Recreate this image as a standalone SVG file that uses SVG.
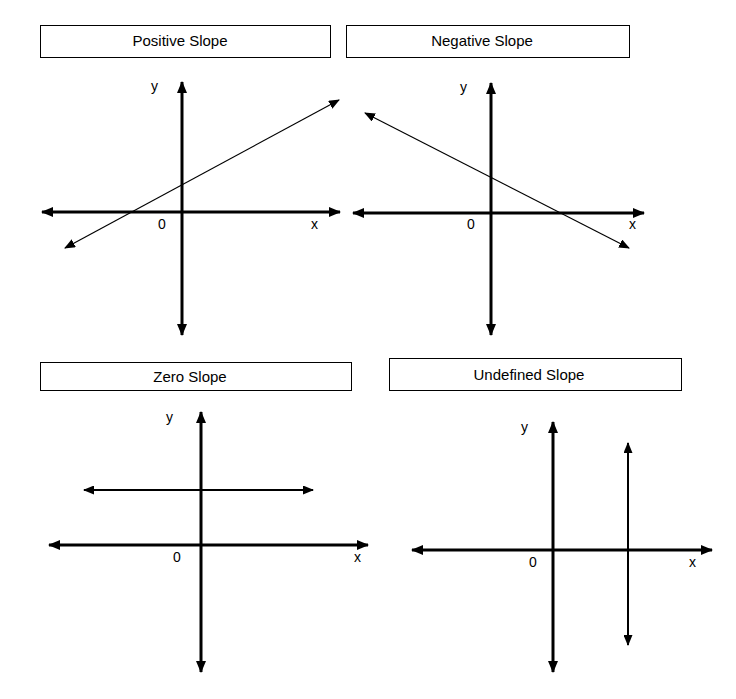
<svg xmlns="http://www.w3.org/2000/svg" width="736" height="699" viewBox="0 0 736 699">
<style>
.box{fill:#fff;stroke:#000;stroke-width:1}
.t{font-family:"Liberation Sans",Arial,sans-serif;font-size:14px;fill:#000}
.tt{text-anchor:middle;font-size:15px}
.ax{stroke:#000;stroke-width:3;fill:none;marker-start:url(#hb);marker-end:url(#hb)}
.ln{stroke:#000;stroke-width:1.2;fill:none;marker-start:url(#hs);marker-end:url(#hs)}
.ln2{stroke:#000;stroke-width:2;fill:none;marker-start:url(#hm);marker-end:url(#hm)}
</style>
<defs>
<marker id="hb" markerUnits="userSpaceOnUse" viewBox="0 0 12 10" refX="11" refY="5" markerWidth="12" markerHeight="10" orient="auto-start-reverse"><path d="M0,0 L12,5 L0,10 Z" fill="#000"/></marker>
<marker id="hs" markerUnits="userSpaceOnUse" viewBox="0 0 11 9" refX="10" refY="4.5" markerWidth="11" markerHeight="9" orient="auto-start-reverse"><path d="M0,0 L11,4.5 L0,9 Z" fill="#000"/></marker>
<marker id="hm" markerUnits="userSpaceOnUse" viewBox="0 0 11 9" refX="10" refY="4.5" markerWidth="11" markerHeight="9" orient="auto-start-reverse"><path d="M0,0 L11,4.5 L0,9 Z" fill="#000"/></marker>
</defs>
<rect width="736" height="699" fill="#fff"/>
<g id="positive-slope">
<rect class="box" x="40.5" y="25.5" width="290" height="32"/>
<text class="t tt" x="180" y="46">Positive Slope</text>
<text class="t" x="151" y="91">y</text>
<text class="t" x="158" y="229">0</text>
<text class="t" x="311" y="229">x</text>
</g>
<g id="negative-slope">
<rect class="box" x="346.5" y="25.5" width="283" height="32"/>
<text class="t tt" x="482" y="46">Negative Slope</text>
<text class="t" x="460" y="92">y</text>
<text class="t" x="467" y="229">0</text>
<text class="t" x="629" y="229">x</text>
</g>
<g id="zero-slope">
<rect class="box" x="40.5" y="362.5" width="311" height="28"/>
<text class="t tt" x="190" y="382">Zero Slope</text>
<text class="t" x="166" y="422">y</text>
<text class="t" x="173" y="562">0</text>
<text class="t" x="354" y="562">x</text>
</g>
<g id="undefined-slope">
<rect class="box" x="389.5" y="358.5" width="292" height="32"/>
<text class="t tt" x="529" y="380">Undefined Slope</text>
<text class="t" x="521" y="432">y</text>
<text class="t" x="529" y="567">0</text>
<text class="t" x="689" y="567">x</text>
</g>
<g id="connectors">
<line class="ax" x1="182" y1="82" x2="182" y2="335"/>
<line class="ax" x1="42" y1="212" x2="340" y2="212"/>
<line class="ln" x1="65" y1="248" x2="339" y2="100"/>
<line class="ax" x1="491" y1="83" x2="491" y2="335"/>
<line class="ax" x1="353" y1="213" x2="644" y2="213"/>
<line class="ln" x1="365" y1="113" x2="629" y2="248"/>
<line class="ax" x1="201" y1="412" x2="201" y2="672"/>
<line class="ax" x1="49" y1="545" x2="368" y2="545"/>
<line class="ln2" x1="84" y1="490" x2="313" y2="490"/>
<line class="ax" x1="553" y1="422" x2="553" y2="672"/>
<line class="ax" x1="412" y1="550" x2="712" y2="550"/>
<line class="ln2" x1="628" y1="443" x2="628" y2="645"/>
</g>
</svg>
